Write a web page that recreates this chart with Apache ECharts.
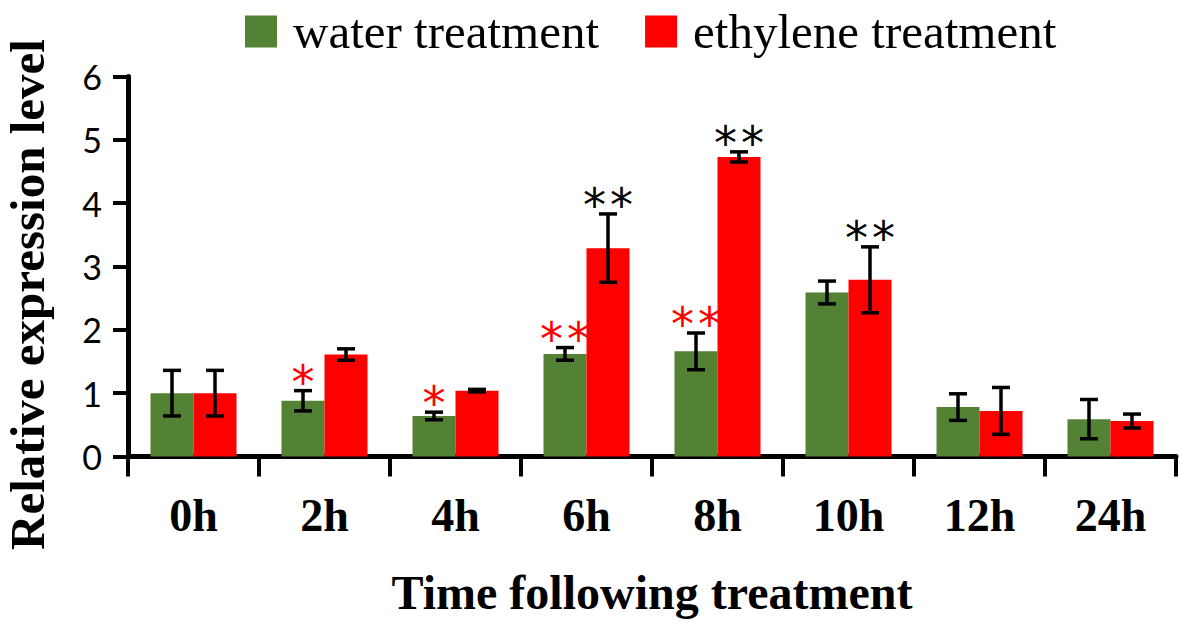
<!DOCTYPE html>
<html><head><meta charset="utf-8">
<script src="https://cdn.jsdelivr.net/npm/echarts@6/dist/echarts.min.js"></script>
<style>html,body{margin:0;padding:0;background:#fff}#c{width:1181px;height:623px}</style>
</head><body><div id="c"></div>
<script>
const categories = ['0h','2h','4h','6h','8h','10h','12h','24h'];
const waterMean = [1.00, 0.88, 0.64, 1.62, 1.66, 2.59, 0.78, 0.59];
const waterErr  = [0.36, 0.16, 0.06, 0.10, 0.29, 0.18, 0.21, 0.31];
const ethMean   = [1.00, 1.61, 1.04, 3.29, 4.73, 2.79, 0.72, 0.56];
const ethErr    = [0.36, 0.09, 0.02, 0.54, 0.08, 0.52, 0.37, 0.11];
const waterSig  = ['', '*', '*', '**', '**', '', '', ''];
const ethSig    = ['', '', '', '**', '**', '**', '', ''];
const seriesNames = ['water treatment', 'ethylene treatment'];

const GREEN = '#548235', RED = '#ff0000';
const BAR_W = 43;

function errRender(offset) {
  return function (params, api) {
    const i = api.value(0), m = api.value(1), e = api.value(2);
    const top = api.coord([i, m + e]), bot = api.coord([i, m - e]);
    const x = top[0] + offset, cap = 9;
    const st = {stroke: '#000', lineWidth: 3.5};
    return {type: 'group', children: [
      {type: 'line', shape: {x1: x, y1: top[1], x2: x, y2: bot[1]}, style: st},
      {type: 'line', shape: {x1: x - cap, y1: top[1], x2: x + cap, y2: top[1]}, style: st},
      {type: 'line', shape: {x1: x - cap, y1: bot[1], x2: x + cap, y2: bot[1]}, style: st}
    ]};
  };
}
function sigRender(offset, sigs, color) {
  return function (params, api) {
    const s = sigs[params.dataIndex];
    if (!s) return null;
    const i = api.value(0), m = api.value(1), e = api.value(2);
    const top = api.coord([i, m + e]);
    const n = s.length, step = 27;
    const children = [];
    for (let k = 0; k < n; k++) {
      children.push({type: 'text', style: {
        text: '*', x: top[0] + offset + (k - (n - 1) / 2) * step, y: top[1] - 9,
        align: 'center', verticalAlign: 'middle',
        fontSize: 46, fontFamily: 'DejaVu Sans', fill: color
      }});
    }
    return {type: 'group', children: children};
  };
}
const wData = categories.map((c, i) => [i, waterMean[i], waterErr[i]]);
const eData = categories.map((c, i) => [i, ethMean[i], ethErr[i]]);

const chart = echarts.init(document.getElementById('c'), null, {renderer: 'svg'});
chart.setOption({
  animation: false,
  backgroundColor: '#fff',
  legend: {
    data: seriesNames, top: 2, left: 240, itemWidth: 32, itemHeight: 32, itemGap: 46,
    icon: 'rect',
    textStyle: {fontFamily: 'Liberation Serif', fontSize: 49, color: '#000', padding: [0, 0, 0, 11]}
  },
  grid: {left: 128, right: 5, top: 76.5, bottom: 166.5, containLabel: false, outerBoundsMode: 'none'},
  xAxis: {
    type: 'category', data: categories,
    axisLine: {lineStyle: {color: '#000', width: 5}},
    axisTick: {show: true, length: 20, lineStyle: {color: '#000', width: 4}},
    axisLabel: {fontFamily: 'Liberation Serif', fontWeight: 'bold', fontSize: 46, color: '#000', margin: 36},
    name: 'Time following treatment', nameLocation: 'middle', nameGap: 112,
    nameTextStyle: {fontFamily: 'Liberation Serif', fontWeight: 'bold', fontSize: 48, color: '#000'}
  },
  yAxis: {
    type: 'value', min: 0, max: 6, interval: 1,
    axisLine: {show: true, lineStyle: {color: '#000', width: 5}},
    axisTick: {show: true, length: 15, lineStyle: {color: '#000', width: 4}},
    splitLine: {show: false},
    axisLabel: {fontFamily: 'Lato', fontSize: 34, color: '#000', margin: 26},
    name: 'Relative expression level', nameLocation: 'middle', nameGap: 76, nameRotate: 90,
    nameTextStyle: {fontFamily: 'Liberation Serif', fontWeight: 'bold', fontSize: 49, color: '#000', padding: [0, 56, 0, 0]}
  },
  series: [
    {name: seriesNames[0], type: 'bar', data: waterMean, barWidth: BAR_W, barGap: '0%', itemStyle: {color: GREEN}},
    {name: seriesNames[1], type: 'bar', data: ethMean, barWidth: BAR_W, barGap: '0%', itemStyle: {color: RED}},
    {name: 'werr', type: 'custom', data: wData, renderItem: errRender(-BAR_W / 2), z: 3, encode: {x: 0, y: 1}},
    {name: 'eerr', type: 'custom', data: eData, renderItem: errRender(BAR_W / 2), z: 3, encode: {x: 0, y: 1}},
    {name: 'wsig', type: 'custom', data: wData, renderItem: sigRender(-BAR_W / 2, waterSig, RED), z: 4, encode: {x: 0, y: 1}},
    {name: 'esig', type: 'custom', data: eData, renderItem: sigRender(BAR_W / 2, ethSig, '#000'), z: 4, encode: {x: 0, y: 1}}
  ]
});
</script></body></html>
